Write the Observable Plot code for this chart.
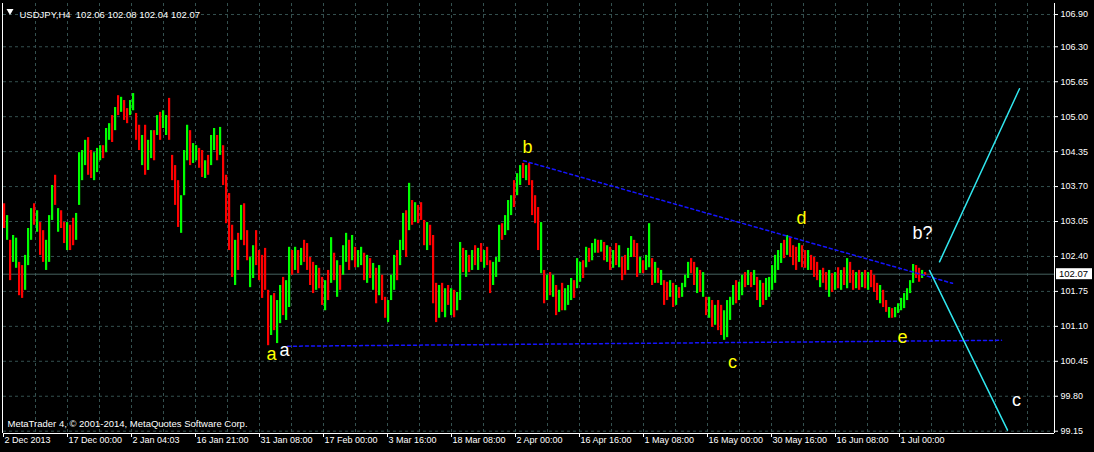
<!DOCTYPE html>
<html><head><meta charset="utf-8">
<script src="https://cdn.jsdelivr.net/npm/d3@7"></script>
<script src="https://cdn.jsdelivr.net/npm/@observablehq/plot@0.6"></script>
<style>
html,body{margin:0;padding:0;background:#000;}
#chart{width:1094px;height:452px;overflow:hidden;}
</style></head><body><div id="chart"></div>
<script>
// ---- DATA (USDJPY H4, each entry = 3 consecutive H4 bars) ----
const barHighs = [
103.38,103.16,102.70,102.79,102.74,102.29,102.23,102.42,102.92,103.29,
103.38,103.25,103.03,102.88,102.70,103.16,103.72,103.91,103.29,103.25,
103.03,103.03,102.98,103.11,103.20,104.33,104.37,104.56,104.61,104.37,
104.33,104.41,104.46,104.46,104.78,104.87,105.02,105.17,105.39,105.36,
105.30,105.15,105.30,105.43,105.06,104.84,104.65,104.84,104.56,104.74,
104.74,105.02,105.08,105.11,105.02,105.34,104.28,104.09,103.81,103.53,
104.37,104.84,104.74,104.50,104.46,104.41,104.37,104.18,104.28,104.65,
104.78,104.65,104.80,104.46,103.91,103.57,102.98,102.70,102.83,103.35,
103.38,102.88,102.38,102.60,102.88,102.51,102.42,102.55,101.77,101.67,
101.71,101.58,101.86,102.01,101.95,102.57,102.51,102.57,102.51,102.55,
102.70,102.64,102.38,102.29,102.23,102.18,102.01,101.95,102.14,102.75,
102.46,102.32,102.23,102.60,102.83,102.70,102.79,102.57,102.51,102.57,
102.46,102.42,102.36,102.27,102.18,102.23,102.05,101.64,101.58,102.05,
102.42,102.51,102.70,103.20,103.25,103.76,103.44,103.40,103.35,103.40,
103.07,103.03,102.98,102.79,101.90,101.86,101.90,101.80,101.86,101.80,
101.77,101.73,102.66,102.55,102.51,102.42,102.51,102.60,102.55,102.64,
102.51,102.57,102.32,102.29,102.38,102.98,103.01,103.16,103.44,103.53,
103.81,103.94,104.09,104.13,104.09,104.13,103.81,103.53,103.31,103.03,
102.14,102.05,102.10,102.05,101.86,101.77,101.90,101.80,101.86,101.99,
101.95,102.36,102.29,102.32,102.57,102.55,102.64,102.72,102.70,102.70,
102.66,102.60,102.57,102.51,102.64,102.60,102.38,102.42,102.55,102.77,
102.70,102.64,102.38,102.32,102.42,103.01,102.36,102.29,102.18,102.14,
101.95,101.92,101.95,101.90,101.86,101.82,101.90,102.05,102.29,102.36,
102.29,102.19,102.14,102.10,101.64,101.64,101.58,101.49,101.58,101.49,
101.39,101.58,101.64,101.86,101.95,101.92,102.05,102.10,102.14,102.10,
102.14,102.01,101.95,101.90,101.99,102.01,102.23,102.42,102.51,102.64,
102.70,102.79,102.75,102.60,102.57,102.64,102.60,102.51,102.51,102.42,
102.38,102.29,102.14,102.18,102.10,102.14,102.08,102.10,102.19,102.14,
102.19,102.36,102.29,102.14,102.10,102.14,102.10,102.14,102.10,102.14,
102.05,101.90,101.86,101.77,101.58,101.45,101.43,101.45,101.52,101.62,
101.71,101.80,101.95,102.25,102.23,102.18,102.14,102.10];
const barLows = [
102.92,102.70,101.95,102.29,102.18,101.67,101.62,101.77,102.23,102.70,
102.98,102.85,102.42,102.29,102.14,102.29,103.07,103.35,102.85,102.92,
102.64,102.51,102.51,102.60,102.70,103.35,103.81,104.09,103.91,103.85,
103.81,103.96,104.18,104.22,104.33,104.56,104.52,104.74,105.02,105.08,
104.93,104.87,105.02,105.11,104.56,104.37,104.09,103.91,104.00,104.22,
104.18,104.65,104.56,104.78,104.65,104.56,103.81,103.35,102.94,102.83,
103.53,104.18,104.09,104.13,104.18,104.04,103.87,103.85,103.91,104.09,
104.37,104.18,104.28,103.72,103.01,102.51,102.01,101.86,102.14,102.70,
102.60,102.32,101.82,101.99,102.23,101.95,101.62,101.77,100.74,100.93,
101.02,100.78,101.15,101.30,101.21,101.45,102.05,102.14,102.08,102.23,
102.29,102.14,101.86,101.71,101.77,101.80,101.49,101.39,101.58,101.90,
101.95,101.64,101.77,102.05,102.29,102.14,102.32,102.19,102.19,102.23,
101.95,101.90,101.99,101.77,101.52,101.67,101.58,101.25,101.17,101.58,
101.77,101.95,102.23,102.51,102.38,102.88,102.98,103.03,103.01,103.07,
102.60,102.51,102.60,101.52,101.17,101.25,101.36,101.26,101.49,101.30,
101.26,101.39,101.58,102.10,102.01,102.10,102.14,102.23,102.14,102.29,
102.18,102.23,101.71,101.86,102.01,102.29,102.70,102.79,102.88,103.16,
103.31,103.53,103.72,103.85,103.81,103.72,103.16,103.01,102.51,102.08,
101.52,101.58,101.67,101.64,101.30,101.36,101.39,101.39,101.49,101.58,
101.62,101.80,101.92,101.99,102.19,102.29,102.32,102.46,102.46,102.48,
102.32,102.29,102.14,102.18,102.23,102.19,101.95,102.05,102.14,102.38,
102.38,102.01,102.08,102.08,102.14,102.19,101.86,101.90,101.90,101.86,
101.49,101.58,101.64,101.45,101.49,101.62,101.64,101.82,101.99,102.08,
101.86,101.71,101.73,101.64,101.30,101.25,101.08,101.12,101.02,100.93,
100.84,100.89,101.21,101.49,101.52,101.58,101.67,101.82,101.86,101.82,
101.86,101.58,101.45,101.49,101.58,101.64,101.77,101.90,102.14,102.27,
102.36,102.42,102.38,102.23,102.14,102.29,102.19,102.18,102.14,102.14,
102.01,101.95,101.82,101.90,101.77,101.64,101.73,101.77,101.80,101.77,
101.86,101.80,101.90,101.77,101.80,101.77,101.82,101.80,101.77,101.82,
101.73,101.58,101.52,101.45,101.36,101.25,101.25,101.26,101.34,101.39,
101.43,101.58,101.71,101.90,101.99,101.92,101.99,102.05];
// g = bullish bar, r = bearish bar
const barDirs = ("rgrggrrggg"+"rgrrgggrgr"+"rgrrggggrr"+"gggrggrgrg"+"rrggrrgrgg"+
  "rgrggrrrrg"+"ggrggrrgrg"+"grgrrrrgrg"+"rrggrrrrrg"+"rggrggrgrg"+
  "rrrrgrrgrg"+"rgrggrgrgg"+"rgrgrgrrgg"+"grggrgrgrr"+"rgrrrgrgrg"+
  "rggrgrgrgr"+"grrgggrggg"+"rggrgrrrrg"+"rgrgrgrggg"+"rggrgrggrg"+
  "rgrgrgrrgg"+"rrgrggrgrg"+"rrgrgrgggr"+"rgrgrgrgrr"+"ggggrggrgr"+
  "grgrgggggg"+"rgrrrgrrgr"+"rrgrrgrgrg"+"rgrrgrgrgr"+"rrgrrgrggg"+"ggggrrgr").split("");
const barsPerEntry = 3;

const symbol = "USDJPY,H4";
const lastOHLC = [102.06, 102.08, 102.04, 102.07];
const lastClose = 102.07;

const priceTicks = [106.90,106.30,105.65,105.00,104.35,103.70,103.05,102.40,101.75,101.10,100.45,99.80,99.15];
const timeTickBars = [0,64,128,192,256,320,384,448,512,576,640,704,768,832,896];
const timeLabels = ["2 Dec 2013","17 Dec 00:00","2 Jan 04:03","16 Jan 21:00","31 Jan 08:00","17 Feb 00:00","3 Mar 16:00","18 Mar 08:00","2 Apr 00:00","16 Apr 16:00","1 May 08:00","16 May 00:00","30 May 16:00","16 Jun 08:00","1 Jul 00:00"];

// wave labels (bar index, price)
const waveText   = ["a","a","b","c","d","e","b?","c"];
const waveBars   = [268,281,524,729,798,899,919,1013];
const wavePrices = [100.58,100.66,104.43,100.43,103.11,100.89,102.83,99.72];

// trend lines (bar index, price)
const upperLineBars = [520,949],  upperLinePrices = [104.18,101.90];
const lowerLineBars = [284,998],  lowerLinePrices = [100.73,100.84];
const projUpBars    = [936,1016], projUpPrices    = [102.30,105.52];
const projDownBars  = [926,1004], projDownPrices  = [102.14,99.17];

const copyright = "MetaTrader 4, © 2001-2014, MetaQuotes Software Corp.";

// ---- BUILD ----
const bars = barHighs.map((h,k)=>({x1:k*barsPerEntry, x2:(k+1)*barsPerEntry, hi:h, lo:barLows[k], up:barDirs[k]==="g"}));
const pts = (b,p)=>b.map((v,i)=>({bar:v, price:p[i]}));
const waves = waveText.map((t,i)=>({label:t, bar:waveBars[i], price:wavePrices[i]}));
const waveFill = ["#ffff00","#ffffff","#ffff00","#ffff00","#ffff00","#ffff00","#ffffff","#ffffff"];
const GRID = "#34504f";
const FONT = "'Liberation Sans', Arial, sans-serif";
const gridBars = d3.range(32, 1051, 32);
const yDomain = [99.107, 107.105];
const xDomain = [0, 1051];

const chart = Plot.plot({
  width:1094, height:452,
  marginLeft:3, marginRight:40, marginTop:3, marginBottom:19,
  style:{background:"#000", color:"#fff", fontFamily:FONT, fontSize:"9px"},
  x:{domain:xDomain, axis:null},
  y:{domain:yDomain, axis:null},
  marks:[
    Plot.ruleX(gridBars,{stroke:GRID, strokeDasharray:"3,3"}),
    Plot.ruleY(priceTicks,{stroke:GRID, strokeDasharray:"3,3"}),
    Plot.ruleY([lastClose],{stroke:"#46625f"}),
    Plot.rect(bars,{x1:"x1", x2:"x2", y1:"lo", y2:"hi", insetRight:0.8, fill:d=>d.up?"#00ff00":"#ff0000"}),
    Plot.line(pts(upperLineBars,upperLinePrices),{x:"bar", y:"price", stroke:"#1414ff", strokeDasharray:"3,3"}),
    Plot.line(pts(lowerLineBars,lowerLinePrices),{x:"bar", y:"price", stroke:"#1414ff", strokeDasharray:"3,3"}),
    Plot.line(pts(projUpBars,projUpPrices),{x:"bar", y:"price", stroke:"#30e6ee"}),
    Plot.line(pts(projDownBars,projDownPrices),{x:"bar", y:"price", stroke:"#30e6ee"}),
    Plot.text(waves,{x:"bar", y:"price", text:"label", fill:(d,i)=>waveFill[i], fontSize:18, fontFamily:FONT}),
    Plot.ruleX([xDomain[0]-1],{stroke:"#fff"}),
    Plot.ruleX([xDomain[1]],{stroke:"#fff"}),
    Plot.ruleY([yDomain[0]],{stroke:"#fff"}),
    Plot.axisY({anchor:"right", ticks:priceTicks, tickFormat:d=>d.toFixed(2), tickSize:3, tickPadding:3, label:null, stroke:"#fff", fill:"#fff"}),
    Plot.axisX({ticks:timeTickBars, tickSize:4, tickFormat:()=>"", label:null, stroke:"#fff"}),
    Plot.text(timeTickBars,{x:d=>d, text:(d,i)=>timeLabels[i], frameAnchor:"bottom", textAnchor:"start", dx:1, dy:9, fill:"#fff"}),
    Plot.dot([0],{frameAnchor:"top-left", dx:6.5, dy:7.5, symbol:"triangle", r:2.6, fill:"#fff", stroke:"none", rotate:180}),
    Plot.text([symbol+"  "+lastOHLC.map(v=>v.toFixed(2)).join(" ")],{frameAnchor:"top-left", dx:16, dy:8, textAnchor:"start", fill:"#fff", fontSize:9.5}),
    Plot.text([copyright],{frameAnchor:"bottom-left", dx:4, dy:-7, textAnchor:"start", fill:"#fff", fontSize:9.5})
  ]
});
document.getElementById("chart").appendChild(chart);

// current price box on the price axis
const svg = d3.select(chart);
const yy = chart.scale("y").apply(lastClose);
const xr = chart.scale("x").apply(xDomain[1]);
svg.append("rect").attr("x", xr+2).attr("y", yy-5.5).attr("width", 36).attr("height", 11).attr("fill", "#fff");
svg.append("text").attr("x", xr+5).attr("y", yy).attr("dy","0.35em").attr("text-anchor","start").attr("fill","#000")
   .attr("font-family", FONT).attr("font-size", 9.5).text(lastClose.toFixed(2));
</script>
</body></html>
